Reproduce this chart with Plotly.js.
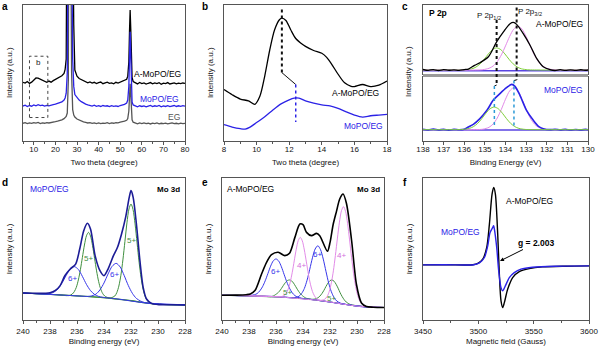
<!DOCTYPE html>
<html><head><meta charset="utf-8">
<script src="https://cdn.plot.ly/plotly-3.0.1.min.js"></script>
<style>html,body{margin:0;padding:0;background:#fff}#chart{width:600px;height:348px}</style>
</head><body><div id="chart"></div>
<script>
// ---------- (a) XRD ----------
const xrdTheta = [5,6,7,8,9,10,11,12,13,14,15,16,17,18,19,20,21,
  22,23,24,24.5,25,25.5,26,26.3,26.6,26.9,27.2,27.5,28,28.5,29,
  30,31,32,33,34,35,36,37,38,39,40,41,42,43,44,45,46,47,48,49,50,51,52,
  53,53.5,54,54.3,54.6,54.9,55.2,55.5,56,
  57,58,59,60,61,62,63,64,65,66,67,68,69,70,71,72,73,74,75,76,77,78,79,80];
const xrdAMoPO = [43.0,42.4,43.6,42.2,43.1,44.6,46.2,46.0,45.1,44.2,43.4,43.0,43.9,43.1,44.2,45.0,46.0,
  46.6,47.8,49.5,52.5,60,95,300,500,600,500,380,250,160,85,52,
  47.5,45.8,44.9,44.0,43.4,42.6,43.3,42.4,43.0,42.1,42.8,43.2,42.0,42.7,43.1,42.2,42.6,41.9,43.0,42.4,43.1,43.4,44.0,
  45.2,47.5,58,80,96,82,55,46.5,43.6,
  42.4,41.8,42.9,42.1,42.6,41.7,42.3,42.8,41.9,42.5,42.0,42.7,41.6,42.4,42.1,42.8,41.8,42.2,42.6,41.9,42.4,42.0,42.5,42.2];
const xrdMoPO = [25.6,26.2,25.3,26.0,25.5,26.4,25.8,26.6,25.9,26.3,25.6,26.1,25.7,26.4,26.6,27.0,27.4,
  27.9,28.6,30.0,31.5,35,50,200,450,550,450,300,160,60,40,34,
  31.5,30.0,28.8,27.7,27.0,26.5,26.1,25.6,26.2,25.4,25.9,25.3,26.0,25.5,25.8,25.2,25.9,25.4,25.7,25.3,26.0,26.3,26.8,
  27.8,30,40,60,80,62,36,28.5,26.4,
  25.6,25.1,25.8,25.3,25.7,25.0,25.6,26.1,25.2,25.8,25.4,26.0,25.1,25.7,25.3,25.9,25.2,25.6,26.0,25.3,25.8,25.4,25.9,25.5];
const xrdEG = [13.0,13.4,12.7,13.2,12.9,13.5,13.1,13.6,12.8,13.3,13.0,13.5,13.2,13.7,13.9,14.2,14.6,
  15.0,15.5,16.4,17.0,18.0,20.5,45,250,500,320,130,50,23,19,17.6,
  16.1,15.2,14.6,14.0,13.6,13.2,13.5,12.9,13.3,12.8,13.2,12.7,13.1,12.9,13.4,12.8,13.2,13.0,13.5,13.3,13.8,14.0,14.5,
  15.2,16.5,22,32,42,34,20,15.5,13.8,
  13.1,12.6,13.2,12.8,13.3,12.7,13.0,12.5,13.1,12.8,13.2,12.6,13.0,12.7,13.1,12.5,12.9,13.2,12.7,13.0,12.6,13.1,12.8,12.9];

// ---------- (b) low-angle zoom ----------
const bThetaA = [8,8.5,9,9.5,9.9,10.2,10.5,10.8,11.1,11.4,11.55,11.8,12.1,12.4,12.7,13,13.5,14,14.3,14.6,15,15.4,15.8,16,16.5,17,17.5,18];
const bAMoPO  = [37.7,33.9,30.7,29.4,26.9,32.7,47.6,66.3,81.3,88.8,90.0,88.3,81.3,75.1,71.8,69.3,66.3,64.3,61.3,56.4,48.9,42.6,40.1,39.9,41.4,39.9,40.9,43.9];
const bThetaM = [8,8.5,9,9.3,9.6,10,10.5,11,11.5,12,12.3,12.6,13,13.5,14,14.5,15,15.5,16,16.5,17,17.5,18];
const bMoPO   = [12.0,10.2,9.0,8.7,10.2,13.5,17.7,22.7,27.2,30.2,31.4,31.4,29.4,27.7,26.4,25.7,23.9,21.4,19.0,17.5,18.5,19.0,19.5];

// ---------- (c) P 2p ----------
const cTopE = [138,137.75,137.5,137.25,137,136.75,136.5,136.25,136,135.8,135.5,135.24,134.83,134.43,134.1,133.78,133.62,133.46,133.14,132.81,132.49,132.17,131.84,131.6,131.35,131.1,130.85,130.6,130.35,130.1,130];
const cTopAMoPO = [6.5,5.2,6.4,5.0,6.2,5.4,6.0,5.3,6.4,7.1,12.4,16.2,24.8,46.2,60.5,72.4,74.3,71.4,58.1,41.4,22.4,10.5,6.2,5.0,6.3,5.1,6.0,5.2,6.1,5.4,5.8];
const cTopGreenE = [138,136.2,135.93,135.63,135.43,135.23,135.03,134.83,134.63,134.43,134.23,134.03,133.83,133.63,133.43,133.23,132.93,132.6,130];
const cTopGreen  = [5.7,5.8,6.1,7.5,10.0,14.6,21.2,28.9,35.1,37.6,35.1,28.9,21.2,14.6,10.0,7.5,6.1,5.8,5.7];
const cTopPinkE = [138,135.5,135.1,134.8,134.6,134.4,134.2,134.0,133.8,133.6,133.4,133.2,133.0,132.8,132.6,132.4,132.2,132.0,131.7,131.3,130];
const cTopPink  = [5.7,5.7,6.2,8.2,11.5,17.7,27.5,40.4,54.0,64.6,68.6,64.6,54.0,40.4,27.5,17.7,11.5,8.2,6.2,5.7,5.7];
const cTopBaseE = [138,130];
const cTopBase  = [4.8,4.8];
const cBotE = [138,137.75,137.5,137.25,137,136.75,136.5,136.25,136,135.8,135.56,135.24,134.9,134.6,134.27,133.95,133.7,133.54,133.3,132.98,132.65,132.4,132.17,131.84,131.6,131.35,131.1,130.85,130.6,130.35,130.1,130];
const cBotMoPO = [18.3,17.2,18.5,17.4,18.1,17.0,18.2,17.6,18.4,21.9,26.0,34.9,47.9,63.5,74.0,83.3,88.5,85.4,71.4,47.9,32.3,22.9,19.3,17.7,18.4,17.3,18.2,17.1,18.0,17.4,18.1,17.6];
const cBotGreenE = [138,136.2,136.05,135.75,135.55,135.35,135.15,134.95,134.75,134.55,134.35,134.15,133.95,133.75,133.55,133.35,133.05,132.7,130];
const cBotGreen  = [17.7,17.8,18.1,19.7,22.5,27.5,34.9,43.4,50.4,53.1,50.4,43.4,34.9,27.5,22.5,19.7,18.1,17.8,17.7];
const cBotPinkE = [138,135.6,135.1,134.8,134.6,134.4,134.2,134.0,133.8,133.6,133.4,133.2,133.0,132.8,132.6,132.4,132.1,131.6,130];
const cBotPink  = [17.7,17.7,18.4,21.4,26.6,35.9,49.6,65.3,78.2,83.3,78.2,65.3,49.6,35.9,26.6,21.4,18.4,17.7,17.7];
const cBotBaseE = [138,130];
const cBotBase  = [17.2,17.2];

// ---------- (d) Mo 3d, MoPO/EG ----------
const dBgE = [240,239,238,237,236,235,234,233,232,231,230,229,228];
const dBg  = [19.0,18.6,18.1,17.5,17.0,16.4,15.7,14.8,13.6,12.1,11.1,10.8,10.7];
const dTotalE = [240,239,238,237.6,237.25,236.9,236.5,236.1,235.8,235.5,235.23,235.0,234.66,234.3,234.0,233.7,233.3,233.0,232.7,232.4,232.13,232.0,231.84,231.6,231.34,231.1,230.85,230.48,229.87,229,228];
const dTotal  = [19.0,18.8,19.2,20.8,24.2,31.2,35.9,39.4,50.0,62.9,68.1,64.1,45.3,34.7,31.2,35.9,45.3,51.2,60.6,72.3,86.4,91.1,86.4,67.6,41.8,23.0,14.8,11.7,10.8,10.7,10.6];
const d6aE = [240,238.6,238.0,237.7,237.4,237.1,236.8,236.5,236.2,235.9,235.6,235.3,235.0,234.7,234.4,234.1,233,231,228];
const d6a  = [19.0,18.4,18.7,19.7,22.0,26.2,31.4,35.9,37.6,35.6,30.7,25.1,20.7,18.0,16.6,16.0,14.8,12.1,10.7];
const d6bE = [240,237,236,235.2,234.9,234.6,234.3,234.0,233.7,233.4,233.1,232.8,232.5,232.2,231.9,231.6,231.3,231.0,230,228];
const d6b  = [19.0,17.5,17.0,16.6,17.0,18.2,21.2,26.1,32.4,37.8,39.9,37.3,31.2,24.3,18.8,15.2,13.4,12.3,11.1,10.7];
const d5aE = [240,237.5,236.6,236.35,236.2,236.05,235.9,235.75,235.6,235.45,235.3,235.15,235.0,234.85,234.7,234.55,234.4,234.25,234.1,233.95,233.6,232,230,228];
const d5a  = [19.0,17.8,17.2,18.3,20.0,23.0,28.2,35.4,44.1,52.8,59.3,61.7,59.2,52.4,43.5,34.6,27.2,21.9,18.7,16.9,15.4,13.6,11.1,10.7];
const d5bE = [240,237,235,234,233.5,233.2,233.05,232.9,232.75,232.6,232.45,232.3,232.15,232.0,231.85,231.7,231.55,231.4,231.25,231.1,230.95,230.8,230.5,230,229,228];
const d5b  = [19.0,17.5,16.4,15.7,15.6,16.9,19.3,23.9,31.5,42.3,55.4,68.4,78.2,81.7,77.8,67.7,54.3,40.7,29.5,21.5,16.5,13.7,11.8,11.1,10.8,10.7];

// ---------- (e) Mo 3d, A-MoPO/EG ----------
const eBgE = [240,239,238,237,236,235,234,233,232,231,230,229,228];
const eBg  = [17.4,17.3,17.1,16.8,16.4,15.8,15.0,14.0,12.7,11.2,9.8,9.0,8.8];
const eTotalE = [240,239,238.2,237.9,237.56,237.07,236.7,236.33,235.84,235.35,235.0,234.6,234.23,234.0,233.74,233.37,233.0,232.76,232.19,232.0,231.77,231.52,231.28,231.03,230.78,230.4,230.04,229.67,229.3,228.8,228];
const eTotal  = [17.4,17.5,17.8,18.3,20.7,32.4,40.6,46.0,47.7,45.3,47.0,58.2,67.6,67.1,61.7,59.4,61.0,59.4,48.4,54.5,67.1,76.5,85.2,88.7,82.0,56.0,25.0,12.0,9.5,9.0,8.8];
const e6aE = [240,238.5,237.9,237.6,237.4,237.2,237.0,236.8,236.6,236.4,236.2,236.0,235.8,235.6,235.4,235.2,235.0,234.8,234.6,234.4,234.1,233,231,229,228];
const e6a  = [17.4,17.2,17.3,17.8,18.6,20.5,23.4,27.6,32.7,37.9,41.7,43.0,41.5,37.5,32.1,26.8,22.4,19.2,17.2,16.1,15.3,14.0,11.2,9.0,8.8];
const e4aE = [240,237,235.6,235.4,235.25,235.1,234.95,234.8,234.65,234.5,234.35,234.2,234.05,233.9,233.75,233.6,233.45,233.3,233.15,233.0,232.8,232,230,228];
const e4a  = [17.4,16.8,16.5,17.2,18.8,21.7,26.5,33.3,41.6,49.8,56.0,58.2,55.7,49.3,40.9,32.3,25.2,20.1,17.0,15.2,14.0,12.7,9.8,8.8];
const e6bE = [240,236,234.6,234.3,234.1,233.9,233.7,233.5,233.3,233.1,232.9,232.7,232.5,232.3,232.1,231.9,231.7,231.5,231.2,230,228];
const e6b  = [17.4,16.4,15.8,16.7,18.7,22.2,28.0,35.7,43.8,50.0,52.3,49.5,42.9,34.3,26.1,19.9,15.8,13.4,11.8,9.8,8.8];
const e4bE = [240,236,233,232.6,232.4,232.2,232.05,231.9,231.75,231.6,231.45,231.3,231.15,231.0,230.85,230.7,230.55,230.4,230.25,230.1,229.95,229.8,229.6,229.4,228];
const e4b  = [17.4,16.4,14.0,13.9,14.6,16.7,20.3,26.2,34.6,45.5,57.7,68.9,77.0,79.8,76.6,68.1,56.4,43.8,32.5,23.6,17.3,13.4,10.9,9.7,8.8];
const e5aE = [240,237,236.4,236.2,236.05,235.9,235.75,235.6,235.45,235.3,235.15,235.0,234.85,234.7,234.55,234.4,234.25,234.1,233.95,233.8,233.6,232,230,228];
const e5a  = [17.4,16.8,16.4,16.9,17.8,18.8,20.2,22.2,24.4,26.4,27.8,28.2,27.6,26.0,23.7,21.3,19.2,17.6,16.4,15.5,14.8,12.7,9.8,8.8];
const e5bE = [240,235,233.25,233.05,232.9,232.75,232.6,232.45,232.3,232.15,232.0,231.85,231.7,231.55,231.4,231.25,231.1,230.95,230.8,230.65,230.45,229,228];
const e5b  = [17.4,15.8,14.6,15.0,15.6,16.8,18.6,20.9,23.6,26.0,27.7,28.2,27.3,25.2,22.4,19.2,16.5,14.3,12.7,11.7,10.8,9.0,8.8];

// ---------- (f) EPR ----------
const fFieldA = [3450,3470,3490,3495,3499.5,3504,3507.6,3510,3512.4,3513.9,3515.4,3517.5,3519,3520.5,3522,3523.5,3526.5,3531,3537,3546,3558,3579,3600];
const fAMoPO  = [38.8,38.9,38.7,38.9,39.8,42.8,51.1,67.5,88.7,93.4,88.7,60.5,32.2,13.4,8.7,12.2,21.6,29.9,34.1,36.2,37.4,37.9,38.1];
const fFieldM = [3450,3470,3490,3496,3501,3505.5,3508.5,3510.6,3513,3513.8,3514.5,3516.6,3518.4,3520.5,3522,3524.4,3528,3532.5,3538.5,3549,3570,3600];
const fMoPO   = [38.8,38.9,38.7,38.9,40.2,44.0,52.2,61.6,65.2,66.4,64.0,51.1,34.6,22.8,20.5,24.0,29.9,33.4,35.8,37.2,37.9,38.1];

// ---------- styling / layout ----------
const FONT = 'Liberation Sans, Arial, sans-serif';
const FRAME = '#555';
const BLACK = '#000000', BLUE = '#2b22e6', GRAY = '#555555', NAVY = '#1c1c96',
      CBLUE = '#3636ea', DGREEN = '#3f8f3f', PINK = '#e28be8', LGREEN = '#7fcf3a',
      BASEP = '#5a45e2', CYAN = '#2c9ad6';
const PX = v => v / 600, PY = v => 1 - v / 348;

function line(x, y, xa, ya, color, width, shape) {
  return {type: 'scatter', mode: 'lines', x: x, y: y, xaxis: xa, yaxis: ya,
    line: {color: color, width: width || 1.3, shape: shape || 'spline', smoothing: 0.8},
    hoverinfo: 'skip', showlegend: false};
}

const traces = [
  line(xrdTheta, xrdEG, 'x', 'y', GRAY, 1.3, 'linear'),
  line(xrdTheta, xrdAMoPO, 'x', 'y', BLACK, 1.3, 'linear'),
  line(xrdTheta, xrdMoPO, 'x', 'y', BLUE, 1.3, 'linear'),

  line(bThetaA, bAMoPO, 'x2', 'y2', BLACK, 1.3),
  line(bThetaM, bMoPO, 'x2', 'y2', BLUE, 1.3),

  line(cTopBaseE, cTopBase, 'x3', 'y3', BASEP, 1.5, 'linear'),
  line(cTopGreenE, cTopGreen, 'x3', 'y3', LGREEN, 1),
  line(cTopPinkE, cTopPink, 'x3', 'y3', PINK, 1),
  line(cTopE, cTopAMoPO, 'x3', 'y3', BLACK, 1.3),
  line(cBotBaseE, cBotBase, 'x4', 'y4', BASEP, 1.5, 'linear'),
  line(cBotPinkE, cBotPink, 'x4', 'y4', PINK, 1),
  line(cBotE, cBotMoPO, 'x4', 'y4', BLUE, 1.6),
  line(cBotGreenE, cBotGreen, 'x4', 'y4', LGREEN, 1),

  line(dBgE, dBg, 'x5', 'y5', DGREEN, 1.2),
  line(d5aE, d5a, 'x5', 'y5', DGREEN, 1),
  line(d5bE, d5b, 'x5', 'y5', DGREEN, 1),
  line(d6aE, d6a, 'x5', 'y5', CBLUE, 1),
  line(d6bE, d6b, 'x5', 'y5', CBLUE, 1),
  line(dTotalE, dTotal, 'x5', 'y5', NAVY, 1.6),

  line(eBgE, eBg, 'x6', 'y6', BASEP, 1.2),
  line(e5aE, e5a, 'x6', 'y6', DGREEN, 1),
  line(e5bE, e5b, 'x6', 'y6', DGREEN, 1),
  line(e6aE, e6a, 'x6', 'y6', CBLUE, 1),
  line(e6bE, e6b, 'x6', 'y6', CBLUE, 1),
  line(e4aE, e4a, 'x6', 'y6', PINK, 1),
  line(e4bE, e4b, 'x6', 'y6', PINK, 1),
  line(eTotalE, eTotal, 'x6', 'y6', BLACK, 1.6),

  line(fFieldA, fAMoPO, 'x7', 'y7', BLACK, 1.4),
  line(fFieldM, fMoPO, 'x7', 'y7', BLUE, 1.4)
];

const TFONT = {size: 8, color: '#111', family: FONT};
function xAx(domPx, range, dtick, minor, title, anchor, showLabels, shift) {
  const ax = {
    domain: [PX(domPx[0]), PX(domPx[1])], range: range, autorange: false, anchor: anchor,
    showline: true, mirror: true, linecolor: FRAME, linewidth: 1,
    ticks: showLabels === false ? '' : 'outside', ticklen: 3, tickwidth: 1, tickcolor: FRAME,
    dtick: dtick, tick0: 0, showticklabels: showLabels !== false,
    showgrid: false, zeroline: false, fixedrange: true,
    tickfont: {size: 8, color: '#111', family: FONT}
  };
  if (shift) ax.ticklabelstandoff = shift;
  if (title) ax.title = {text: title, font: TFONT, standoff: shift ? 6 : 3};
  if (minor) ax.minor = {ticks: 'outside', ticklen: 2, dtick: minor, tickcolor: FRAME, showgrid: false};
  return ax;
}
function yAx(domPx, anchor, title) {
  const ax = {
    domain: [PY(domPx[1]), PY(domPx[0])], range: [0, 100], autorange: false, anchor: anchor,
    showline: true, mirror: true, linecolor: FRAME, linewidth: 1,
    ticks: '', showticklabels: false, showgrid: false, zeroline: false, fixedrange: true
  };
  if (title) ax.title = {text: title, font: TFONT, standoff: 8};
  return ax;
}
const INT = 'Intensity (a.u.)';

function txt(s, x, y, color, opts) {
  opts = opts || {};
  return Object.assign({text: s, x: PX(x), y: PY(y), xref: 'paper', yref: 'paper', showarrow: false,
    xanchor: 'center', yanchor: 'middle',
    font: {size: opts.size || 8.5, color: color, family: FONT}}, opts.extra || {});
}
const B = s => '<b>' + s + '</b>';

const annotations = [
  txt(B('a'), 4.5, 7, '#000', {size: 10}), txt(B('b'), 204.5, 7, '#000', {size: 10}),
  txt(B('c'), 404.5, 7, '#000', {size: 10}), txt(B('d'), 4.5, 182, '#000', {size: 10}),
  txt(B('e'), 204.5, 182, '#000', {size: 10}), txt(B('f'), 404.5, 182, '#000', {size: 10}),
  // a
  txt('A-MoPO/EG', 183, 74, BLACK, {extra: {xanchor: 'right'}}),
  txt('MoPO/EG', 181, 99, BLUE, {extra: {xanchor: 'right'}}),
  txt('EG', 182, 117, GRAY, {extra: {xanchor: 'right'}}),
  txt('b', 38.5, 63, '#222', {size: 8}),
  // b
  txt('A-MoPO/EG', 381, 93, BLACK, {extra: {xanchor: 'right'}}),
  txt('MoPO/EG', 385, 126, BLUE, {extra: {xanchor: 'right'}}),
  // c
  txt(B('P 2p'), 427, 13, '#000', {extra: {xanchor: 'left'}}),
  txt('P 2p<sub>1/2</sub>', 489, 16, '#111', {size: 8}),
  txt('P 2p<sub>3/2</sub>', 530, 12, '#111', {size: 8}),
  txt('A-MoPO/EG', 585, 24, BLACK, {extra: {xanchor: 'right'}}),
  txt('MoPO/EG', 585, 90, BLUE, {extra: {xanchor: 'right'}}),
  txt(INT, 409, 72, '#111', {size: 8, extra: {textangle: -90}}),
  // d
  txt('MoPO/EG', 28, 189, BLUE, {extra: {xanchor: 'left'}}),
  txt(B('Mo 3d'), 182, 189, '#000', {size: 8, extra: {xanchor: 'right'}}),
  txt('5+', 88, 258, DGREEN, {size: 8}), txt('5+', 131, 240, DGREEN, {size: 8}),
  txt('6+', 72, 278, CBLUE, {size: 8}), txt('6+', 114, 274, CBLUE, {size: 8}),
  // e
  txt('A-MoPO/EG', 225, 189, BLACK, {extra: {xanchor: 'left'}}),
  txt(B('Mo 3d'), 382, 189, '#000', {size: 8, extra: {xanchor: 'right'}}),
  txt('6+', 275, 271, CBLUE, {size: 8}), txt('4+', 301, 265, '#d36ddd', {size: 8}),
  txt('6+', 317, 254, CBLUE, {size: 8}), txt('4+', 342, 255, '#d36ddd', {size: 8}),
  txt('5+', 287, 292, DGREEN, {size: 8}), txt('5+', 331, 298, DGREEN, {size: 8}),
  // f
  txt('A-MoPO/EG', 529, 201, BLACK),
  txt('MoPO/EG', 460, 232, BLUE),
  {text: B('g = 2.003'), x: PX(500), y: PY(261), xref: 'paper', yref: 'paper',
   showarrow: true, ax: 36, ay: -18, arrowhead: 2, arrowsize: 0.8, arrowwidth: 1, arrowcolor: '#000',
   standoff: 0, font: {size: 8.5, color: '#000', family: FONT}}
];

const dotBlack = {color: '#111', width: 2, dash: 'dot'};
const dotCyan = {color: CYAN, width: 1.5, dash: 'dot'};
const shapes = [
  // (a) dotted box
  {type: 'rect', xref: 'x', yref: 'y', x0: 8, x1: 16.5, y0: 17.2, y1: 62.1, line: {color: '#444', width: 1, dash: 'dot'}},
  // (b) peak markers
  {type: 'line', xref: 'x2', yref: 'y2', x0: 11.55, x1: 11.55, y0: 96.3, y1: 50.1, line: dotBlack},
  {type: 'line', xref: 'x2', yref: 'y2', x0: 11.55, x1: 12.4, y0: 50.1, y1: 41.4, line: {color: '#111', width: 1}},
  {type: 'line', xref: 'x2', yref: 'y2', x0: 12.4, x1: 12.4, y0: 41.4, y1: 14.0, line: {color: BLUE, width: 1.5, dash: 'dot'}},
  // (c) separator
  {type: 'rect', xref: 'paper', yref: 'paper', x0: PX(423), x1: PX(588), y0: PY(77), y1: PY(74), fillcolor: '#9a9a9a', line: {width: 0}},
  // (c) peak markers
  {type: 'line', xref: 'x3', yref: 'paper', x0: 134.43, x1: 134.43, y0: PY(20), y1: PY(85), line: dotBlack},
  {type: 'line', xref: 'x3', yref: 'paper', x0: 134.43, x1: 134.54, y0: PY(85), y1: PY(86), line: {color: '#111', width: 1}},
  {type: 'line', xref: 'x3', yref: 'paper', x0: 134.54, x1: 134.54, y0: PY(86), y1: PY(128), line: dotCyan},
  {type: 'line', xref: 'x3', yref: 'paper', x0: 133.46, x1: 133.46, y0: PY(7.5), y1: PY(80), line: dotBlack},
  {type: 'line', xref: 'x3', yref: 'paper', x0: 133.46, x1: 133.59, y0: PY(80), y1: PY(80.5), line: {color: '#111', width: 1}},
  {type: 'line', xref: 'x3', yref: 'paper', x0: 133.59, x1: 133.59, y0: PY(80.5), y1: PY(126), line: dotCyan}
];

const layout = {
  width: 600, height: 348, margin: {l: 0, r: 0, t: 0, b: 0},
  paper_bgcolor: '#fff', plot_bgcolor: '#fff',
  font: {family: FONT, size: 8, color: '#111'}, showlegend: false,
  xaxis:  xAx([23, 185], [5, 80], 10, 5, 'Two theta (degree)', 'y', true, -3),
  yaxis:  yAx([4.5, 141], 'x', INT),
  xaxis2: xAx([224, 387], [8, 18], 2, 1, 'Two theta (degree)', 'y2', true, -3),
  yaxis2: yAx([4.5, 141], 'x2', INT),
  xaxis3: xAx([423, 588], [138, 130], 1, null, null, 'y3', false),
  yaxis3: yAx([4.5, 74], 'x3', null),
  xaxis4: xAx([423, 588], [138, 130], 1, null, 'Binding Energy (eV)', 'y4', true, -3),
  yaxis4: yAx([77, 141], 'x4', null),
  xaxis5: xAx([23, 185], [240, 228], 2, 1, 'Binding energy (eV)', 'y5'),
  yaxis5: yAx([178, 320], 'x5', INT),
  xaxis6: xAx([222, 384], [240, 228], 2, 1, 'Binding energy (eV)', 'y6'),
  yaxis6: yAx([178, 320], 'x6', INT),
  xaxis7: xAx([423, 589], [3450, 3600], 50, 25, 'Magnetic field (Gauss)', 'y7'),
  yaxis7: yAx([178, 320], 'x7', INT),
  annotations: annotations,
  shapes: shapes
};

Plotly.newPlot('chart', traces, layout, {staticPlot: true, displayModeBar: false});
</script></body></html>
